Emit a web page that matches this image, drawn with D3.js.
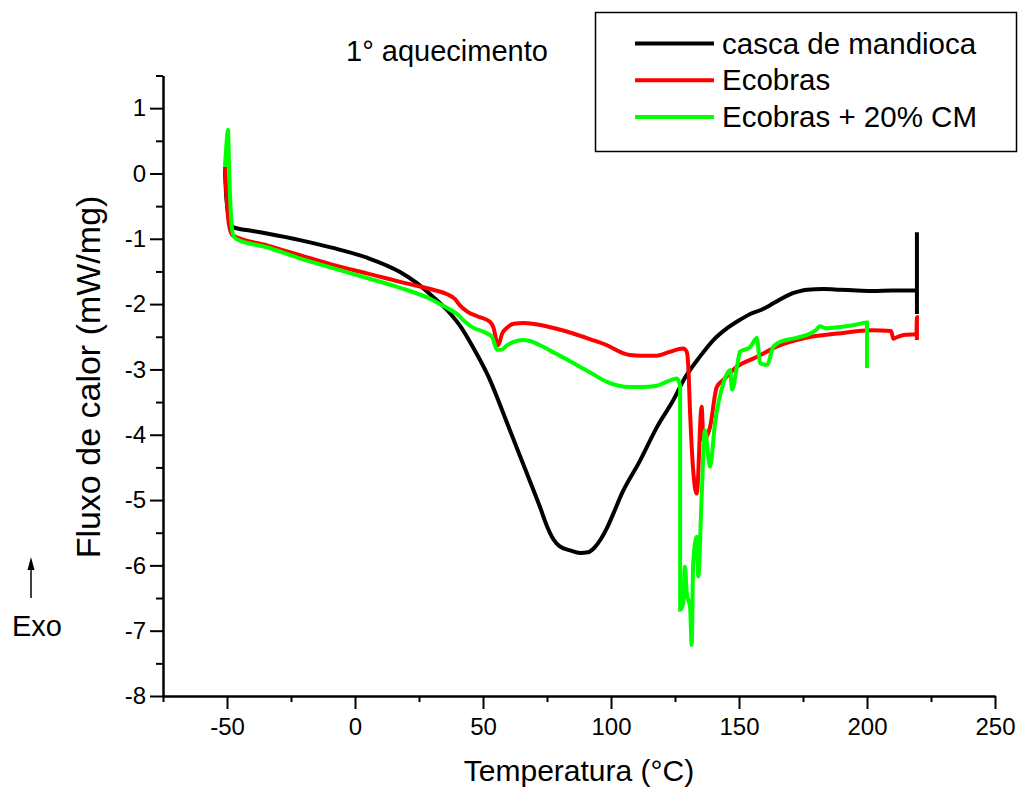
<!DOCTYPE html>
<html>
<head>
<meta charset="utf-8">
<script src="https://cdn.jsdelivr.net/npm/d3@7"></script>
<style>
  html, body { margin: 0; padding: 0; background: #fff; }
  svg text { font-family: "Liberation Sans", Arial, Helvetica, sans-serif; fill: #000; }
</style>
</head>
<body>
<svg id="chart" width="1019" height="789"></svg>
<script>
// DSC curves — first heating (temperature in °C, heat flow in mW/mg)
const cascaTemp = [-50.8, -50.2, -48.5, -47.7, -40, -34.4, -21.5, -8.6, 4.7, 17.6, 24.2, 30.5, 37.1, 41, 46.1, 52, 59.4, 66, 72.3, 75, 77.5, 80, 84, 88, 91, 93.5, 96, 98.4, 101, 104, 111.3, 118, 124.2, 129, 134.8, 140, 145, 150.4, 155, 158.5, 162, 166, 169.9, 173, 176.6, 183, 189.5, 196, 202.3, 210, 219.5, 219.5, 219.5];
const cascaFlux = [0.05, -0.4, -0.78, -0.82, -0.88, -0.92, -1.02, -1.14, -1.29, -1.51, -1.68, -1.89, -2.14, -2.33, -2.66, -3.1, -3.82, -4.48, -5.11, -5.4, -5.6, -5.71, -5.77, -5.81, -5.8, -5.73, -5.6, -5.43, -5.2, -4.92, -4.4, -3.88, -3.48, -3.12, -2.8, -2.55, -2.38, -2.24, -2.14, -2.09, -2.02, -1.93, -1.85, -1.81, -1.78, -1.77, -1.78, -1.79, -1.8, -1.79, -1.79, -0.9, -2.15];

const ecobrasTemp = [-50.8, -50.4, -49.5, -48.3, -47.7, -34.4, -21.5, -8.6, 4.7, 17.6, 30.5, 36, 39, 41, 44, 48, 52.7, 54, 55.9, 57.5, 59.4, 62, 66, 72.3, 78, 85.2, 92, 98.4, 104, 107.4, 112, 117.9, 123, 128.2, 129.6, 130.2, 130.9, 132.1, 133.5, 135.4, 136.1, 138.7, 141.3, 143.9, 149.1, 156.9, 164.7, 175.8, 188.7, 201.6, 209.4, 210.3, 212, 215, 219.3, 219.5, 219.5];
const ecobrasFlux = [0.1, -0.2, -0.7, -0.92, -0.95, -1.1, -1.25, -1.4, -1.53, -1.66, -1.78, -1.85, -1.92, -2.02, -2.12, -2.19, -2.27, -2.35, -2.63, -2.45, -2.36, -2.3, -2.29, -2.32, -2.37, -2.45, -2.54, -2.63, -2.74, -2.78, -2.79, -2.79, -2.73, -2.68, -2.73, -2.96, -3.67, -4.54, -4.9, -3.57, -4.08, -3.88, -3.27, -3.16, -2.96, -2.81, -2.65, -2.52, -2.45, -2.4, -2.41, -2.53, -2.5, -2.47, -2.46, -2.2, -2.55];

const ecobrasCmTemp = [-50.8, -50.3, -49.6, -49.2, -48.5, -47.7, -46.5, -34.4, -21.5, -8.6, 4.7, 17.6, 30.5, 36, 39.8, 43, 46.1, 50, 53.5, 55.5, 57, 59.4, 62, 65.6, 68, 72.3, 78, 85.2, 92, 98.4, 103, 107.4, 112, 117.9, 122.3, 125.7, 127, 127, 128.2, 128.9, 129.6, 130.9, 131.5, 132.1, 133.5, 134.1, 135.4, 136.7, 138.7, 140.6, 143.9, 146.5, 147.3, 149.2, 150.4, 154.3, 157, 158.2, 161, 163.3, 166, 172, 176.6, 180, 181.6, 184, 189.5, 195, 200, 200];
const ecobrasCmFlux = [0.1, 0.4, 0.67, 0.1, -0.6, -0.93, -1.0, -1.13, -1.3, -1.45, -1.6, -1.75, -1.94, -2.06, -2.15, -2.27, -2.36, -2.42, -2.5, -2.7, -2.7, -2.63, -2.58, -2.55, -2.56, -2.63, -2.75, -2.9, -3.05, -3.19, -3.25, -3.27, -3.27, -3.25, -3.18, -3.14, -3.26, -6.68, -6.58, -6.02, -6.43, -6.64, -7.22, -5.97, -5.56, -6.17, -4.95, -3.93, -4.49, -3.83, -3.21, -3.01, -3.31, -2.96, -2.73, -2.66, -2.52, -2.9, -2.93, -2.66, -2.58, -2.52, -2.47, -2.4, -2.34, -2.37, -2.35, -2.32, -2.28, -2.98];

const seriesNames = ["casca de mandioca", "Ecobras", "Ecobras + 20% CM"];
const seriesColors = ["#000000", "#ff0000", "#00ff00"];

const xMajorTicks = [-50, 0, 50, 100, 150, 200, 250];
const xMinorTicks = [-75, -25, 25, 75, 125, 175, 225];
const yMajorTicks = [1, 0, -1, -2, -3, -4, -5, -6, -7, -8];
const yMinorTicks = [1.5, 0.5, -0.5, -1.5, -2.5, -3.5, -4.5, -5.5, -6.5, -7.5];

const chartTitle = "1° aquecimento";
const xTitle = "Temperatura (°C)";
const yTitle = "Fluxo de calor (mW/mg)";

const svg = d3.select("#chart");
const x = d3.scaleLinear().domain([-75, 250]).range([163, 995]);
const y = d3.scaleLinear().domain([-8, 1.5]).range([696, 75.5]);

const series = [
  { name: seriesNames[0], color: seriesColors[0], t: cascaTemp, f: cascaFlux },
  { name: seriesNames[1], color: seriesColors[1], t: ecobrasTemp, f: ecobrasFlux },
  { name: seriesNames[2], color: seriesColors[2], t: ecobrasCmTemp, f: ecobrasCmFlux }
];

// curves (monotone in temperature, so vertical jumps stay straight)
const line = d3.line()
  .x(d => x(d[0]))
  .y(d => y(d[1]))
  .curve(d3.curveMonotoneX);
series.forEach(s => {
  svg.append("path")
    .datum(d3.zip(s.t, s.f))
    .attr("d", line)
    .attr("fill", "none")
    .attr("stroke", s.color)
    .attr("stroke-width", 4)
    .attr("stroke-linejoin", "miter")
    .attr("stroke-miterlimit", 6);
});

// axes
function styleAxis(g) {
  g.selectAll("path.domain").attr("stroke", "#000").attr("stroke-width", 2);
  g.selectAll(".tick line").attr("stroke", "#000").attr("stroke-width", 2);
  g.selectAll("text").attr("font-size", 24).attr("fill", "#000")
    .attr("font-family", "'Liberation Sans', Arial, sans-serif");
}

const xAxisMinor = svg.append("g").attr("transform", "translate(0,696)")
  .call(d3.axisBottom(x).tickValues(xMinorTicks).tickSize(6).tickSizeOuter(0).tickFormat(""));
styleAxis(xAxisMinor);
const xAxis = svg.append("g").attr("transform", "translate(0,696)")
  .call(d3.axisBottom(x).tickValues(xMajorTicks).tickSize(13).tickSizeOuter(0)
    .tickPadding(9).tickFormat(d => String(d)));
styleAxis(xAxis);

const yAxisMinor = svg.append("g").attr("transform", "translate(163,0)")
  .call(d3.axisLeft(y).tickValues(yMinorTicks).tickSize(7).tickSizeOuter(0).tickFormat(""));
styleAxis(yAxisMinor);
const yAxis = svg.append("g").attr("transform", "translate(163,0)")
  .call(d3.axisLeft(y).tickValues(yMajorTicks).tickSize(13).tickSizeOuter(0)
    .tickPadding(4).tickFormat(d => String(d)));
styleAxis(yAxis);

// titles
svg.append("text").attr("x", 346).attr("y", 61).attr("font-size", 29).text(chartTitle);
svg.append("text").attr("x", 579).attr("y", 781).attr("text-anchor", "middle")
  .attr("font-size", 30).text(xTitle);
svg.append("text").attr("transform", "translate(100,377) rotate(-90)")
  .attr("text-anchor", "middle").attr("font-size", 34).text(yTitle);

// exotherm direction marker
svg.append("line").attr("x1", 31).attr("x2", 31).attr("y1", 598).attr("y2", 566)
  .attr("stroke", "#000").attr("stroke-width", 1.5);
svg.append("path").attr("d", "M31,557 L27.5,570 L34.5,570 Z").attr("fill", "#000");
svg.append("text").attr("x", 12).attr("y", 636).attr("font-size", 29).text("Exo");

// legend
const legend = svg.append("g");
legend.append("rect").attr("x", 595.5).attr("y", 12.5).attr("width", 421).attr("height", 139)
  .attr("fill", "#fff").attr("stroke", "#000").attr("stroke-width", 1.5);
series.forEach((s, i) => {
  const cy = 43.5 + i * 36.7;
  legend.append("line").attr("x1", 635).attr("x2", 714).attr("y1", cy).attr("y2", cy)
    .attr("stroke", s.color).attr("stroke-width", 4);
  legend.append("text").attr("x", 722).attr("y", cy + 10).attr("font-size", 29.5).text(s.name);
});
</script>
</body>
</html>
